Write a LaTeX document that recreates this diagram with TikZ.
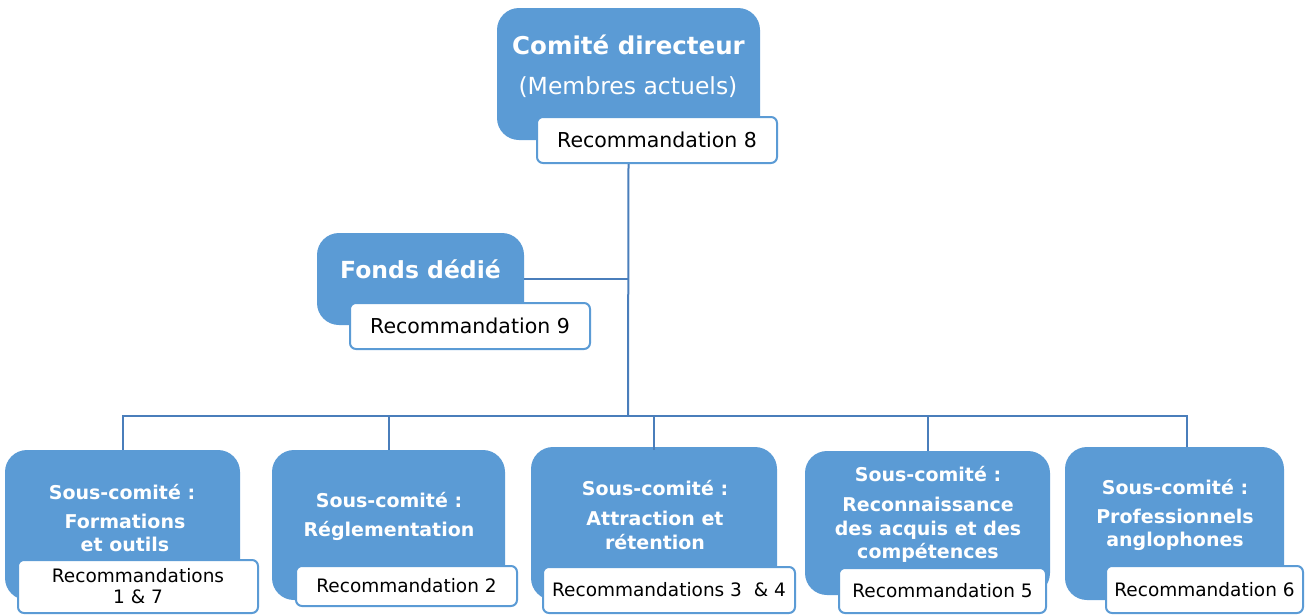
\documentclass[tikz,border=0pt]{standalone}
\usepackage{fontspec}
\setmainfont{DejaVu Sans}
\definecolor{boxblue}{HTML}{5B9BD5}
\definecolor{recedge}{HTML}{5B9BD5}
\definecolor{lineblue}{HTML}{4A7EBB}
\tikzset{
  bluebox/.style={fill=boxblue, draw=none, rounded corners=22pt, inner sep=0pt},
  recbox/.style={fill=white, draw=recedge, line width=2pt, rounded corners=6pt, inner sep=0pt, text=black, align=center, font=\fontsize{18.5}{21}\selectfont},
  conn/.style={draw=lineblue, line width=2pt},
  titlet/.style={text=white, align=center, inner sep=0pt, font=\bfseries\fontsize{19}{23.5}\selectfont},
  bigtitle/.style={text=white, align=center, inner sep=0pt, font=\bfseries\fontsize{24.5}{28}\selectfont},
}
\begin{document}
\begin{tikzpicture}[x=1pt,y=-1pt]
\useasboundingbox (0,0) rectangle (1306,614);
% blue boxes
\node[bluebox, minimum width=263pt, minimum height=132pt] (cd) at (628.5,74) {};
\node[bluebox, minimum width=207pt, minimum height=92pt] (fd) at (420.5,279) {};
\node[bluebox, minimum width=235pt, minimum height=150pt] (sc1) at (122.5,525) {};
\node[bluebox, minimum width=233pt, minimum height=150pt] (sc2) at (388.5,525) {};
\node[bluebox, minimum width=246pt, minimum height=153pt] (sc3) at (654,523.5) {};
\node[bluebox, minimum width=245pt, minimum height=144pt] (sc4) at (927.5,523) {};
\node[bluebox, minimum width=219pt, minimum height=153pt] (sc5) at (1174.5,523.5) {};
% titles
\node[bigtitle] (cdt) at (628.5,45) {Comité directeur};
\node[text=white, inner sep=0pt, font=\fontsize{23.5}{27}\selectfont] (cdm) at (628,87) {(Membres actuels)};
\node[bigtitle, font=\bfseries\fontsize{23.5}{28}\selectfont] (fdt) at (420.5,269) {Fonds dédié};
\node[titlet] (t1a) at (122,492) {Sous-comité :};
\node[titlet] (t1b) at (125,533) {Formations\\et outils};
\node[titlet] (t2a) at (389,500) {Sous-comité :};
\node[titlet] (t2b) at (389,531) {Réglementation};
\node[titlet] (t3a) at (655,488) {Sous-comité :};
\node[titlet] (t3b) at (655,530.5) {Attraction et\\rétention};
\node[titlet] (t4a) at (928,474) {Sous-comité :};
\node[titlet] (t4b) at (928,530) {Reconnaissance\\des acquis et des\\compétences};
\node[titlet] (t5a) at (1175,487) {Sous-comité :};
\node[titlet] (t5b) at (1175,530) {Professionnels\\anglophones};
% recommendation boxes
\node[recbox, minimum width=240pt, minimum height=46pt, font=\fontsize{20.5}{24}\selectfont] (r8) at (657,140) {Recommandation 8};
\node[recbox, minimum width=240pt, minimum height=46pt, font=\fontsize{20.5}{24}\selectfont] (r9) at (470,326) {Recommandation 9};
\node[recbox, minimum width=240pt, minimum height=53pt] (rc1) at (138,586.5) {Recommandations\\1 \& 7};
\node[recbox, minimum width=221pt, minimum height=40pt] (rc2) at (406.5,586) {Recommandation 2};
\node[recbox, minimum width=252pt, minimum height=46pt] (rc3) at (669,590) {Recommandations 3\ \ \& 4};
\node[recbox, minimum width=207pt, minimum height=45pt] (rc4) at (942.5,590.5) {Recommandation 5};
\node[recbox, minimum width=197pt, minimum height=47pt] (rc5) at (1204.5,589.5) {Recommandation 6};
% connectors
\coordinate (bus) at (628,416);
\draw[conn] (cd.center |- r8.south) -- (bus);
\draw[conn] (fd.east) -- (fd.east -| bus);
\draw[conn] (sc1.north) |- (bus) -| ([xshift=12.5pt]sc5.north);
\draw[conn] (sc2.north) -- (sc2.north |- bus);
\draw[conn] ([yshift=-3pt]sc3.north) -- (sc3.north |- bus);
\draw[conn] (sc4.north) -- (sc4.north |- bus);
\end{tikzpicture}
\end{document}
